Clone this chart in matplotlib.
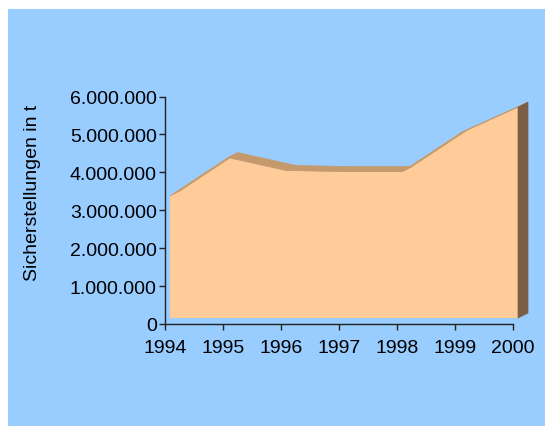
import matplotlib
matplotlib.use("Agg")
import matplotlib.pyplot as plt
import matplotlib.transforms as mtransforms
from matplotlib.patches import Polygon, Rectangle

plt.rcParams["font.family"] = ["Liberation Sans", "DejaVu Sans"]
plt.rcParams["font.size"] = 14

years = ["1994", "1995", "1996", "1997", "1998", "1999", "2000"]
tonnes = [3.22e6, 4.23e6, 3.89e6, 3.86e6, 3.86e6, 4.87e6, 5.56e6]
y_ticks = [0, 1e6, 2e6, 3e6, 4e6, 5e6, 6e6]
y_labels = ["0", "1.000.000", "2.000.000", "3.000.000", "4.000.000", "5.000.000", "6.000.000"]

BG = "#99CCFF"
FRONT = "#FFCC99"
TOP = "#C49A6C"
SIDE = "#7A5E46"

W, H = 545, 427
fig = plt.figure(figsize=(W / 100, H / 100), dpi=100)
fig.patch.set_facecolor("white")
fig.patches.append(Rectangle((8 / W, 0), 537 / W, (H - 10) / H,
                             transform=fig.transFigure, facecolor=BG,
                             edgecolor="none", zorder=-10))

ax = fig.add_axes([165 / W, 1 - 325 / H, 348 / W, (325 - 97.5) / H])
ax.set_facecolor("none")
ax.set_xlim(0, len(years) - 1)
ax.set_ylim(0, 6e6)


def shifted(dx, dy):
    # pixel shift on top of data coordinates (dy positive = upward)
    return ax.transData + mtransforms.ScaledTranslation(dx / 100, dy / 100, fig.dpi_scale_trans)


front_tr = shifted(5, 6)
back_tr = shifted(15, 11)

xs = list(range(len(years)))
n = len(xs)

# top strips between front and back edges
for i in range(n - 1):
    p_front = [front_tr.transform((xs[i], tonnes[i])), front_tr.transform((xs[i + 1], tonnes[i + 1]))]
    p_back = [back_tr.transform((xs[i + 1], tonnes[i + 1])), back_tr.transform((xs[i], tonnes[i]))]
    poly = Polygon(p_front + p_back, closed=True, transform=None,
                   facecolor=TOP, edgecolor=TOP, linewidth=0.5, zorder=1)
    fig.artists.append(poly)
    poly.set_figure(fig)

# right side face
last = n - 1
side_pts = [front_tr.transform((xs[last], tonnes[last])), front_tr.transform((xs[last], 0)),
            back_tr.transform((xs[last], 0)), back_tr.transform((xs[last], tonnes[last]))]
side = Polygon(side_pts, closed=True, transform=None,
               facecolor=SIDE, edgecolor=SIDE, linewidth=0.5, zorder=1)
fig.artists.append(side)
side.set_figure(fig)

# front face
ax.fill_between(xs, 0, tonnes, facecolor=FRONT, edgecolor="none",
                transform=front_tr, clip_on=False, zorder=2)

for s in ["top", "right"]:
    ax.spines[s].set_visible(False)
for s in ["left", "bottom"]:
    ax.spines[s].set_color("#222222")
    ax.spines[s].set_linewidth(1)
    ax.spines[s].set_zorder(3)

ax.set_xticks(xs)
ax.set_xticklabels(years)
ax.set_yticks(y_ticks)
ax.set_yticklabels(y_labels)
ax.tick_params(direction="out", length=4, width=1, color="#222222")
ax.tick_params(axis="y", pad=2)
ax.tick_params(axis="x", pad=7)
ax.set_ylabel("Sicherstellungen in t")
ax.yaxis.set_label_coords(-0.355, 0.58)

fig.savefig("out.png", dpi=100, facecolor=fig.get_facecolor())
